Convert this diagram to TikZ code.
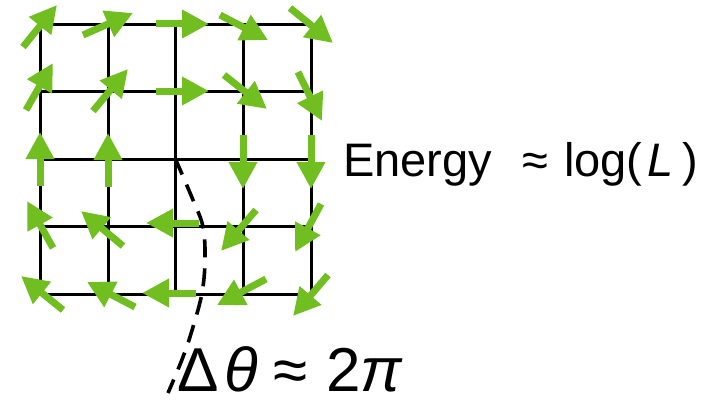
\documentclass[tikz,border=0pt]{standalone}
\usepackage{fontspec}
\setmainfont{Liberation Sans}
\usetikzlibrary{arrows.meta}
\definecolor{spin}{RGB}{112,190,32}
\tikzset{
  gridline/.style={line width=3pt, line cap=rect},
  spinarrow/.style={draw=spin, line width=7pt, -{Triangle[length=27pt,width=27pt]}, fill=spin},
  vortexline/.style={line width=3.6pt, dash pattern=on 18pt off 11pt},
  bigtext/.style={inner sep=0pt, anchor=base west, font=\fontsize{47}{56}\selectfont},
  hugetext/.style={inner sep=0pt, anchor=base west, font=\fontsize{62}{74}\selectfont}
}
\begin{document}
\begin{tikzpicture}[x=1pt,y=-1pt]
\useasboundingbox (0,0) rectangle (714,404);
% grid
\foreach \x in {40,108,175,243,311} \draw[gridline] (\x,25) -- (\x,294);
\foreach \y in {25,91,159,226,294} \draw[gridline] (40,\y) -- (311,\y);
\coordinate (core) at (175,159);
% dashed string from the vortex core
\draw[vortexline] plot[smooth, tension=0.6] coordinates {(175,158) (193,200) (203,227) (205,260) (202,293) (193,327) (183,357) (168,393)};
% spins
\foreach \ax/\ay/\bx/\by in {
  23/47/57/5, 83/35/133/13, 156/24/209/24, 220/15/268/40, 290/8/333/43,
  26/110/53/63, 93/111/128/69, 156/91/209/91, 224/75/267/109, 298/72/322/121,
  40/186/40/132, 108/187/108/133, 243/135/243/189, 311/135/311/189,
  53/248/27/201, 123/246/81/211, 199/223/146/223, 256/210/221/251, 321/204/295/252,
  63/310/21/276, 135/307/87/282, 196/293/142/293, 266/279/217/305, 328/275/293/316}
  \draw[spinarrow] (\ax,\ay) -- (\bx,\by);
% energy label
\node[bigtext] (energy) at (343,176) {Energy};
\node[bigtext] (approx1) at (522,176) {≈};
\node[bigtext] (logl) at (564,176) {log(};
\node[bigtext] (ell) at (647,176) {\itshape L};
\node[bigtext] (rpar) at (682,176) {)};
% winding label
\node[hugetext] (delta) at (177,391) {Δ};
\node[hugetext] (theta) at (224,391) {\itshape θ};
\node[hugetext] (approx2) at (273,391) {≈};
\node[hugetext] (two) at (326,391) {2};
\node[hugetext] (pi) at (360,391) {\itshape π};
\end{tikzpicture}
\end{document}
